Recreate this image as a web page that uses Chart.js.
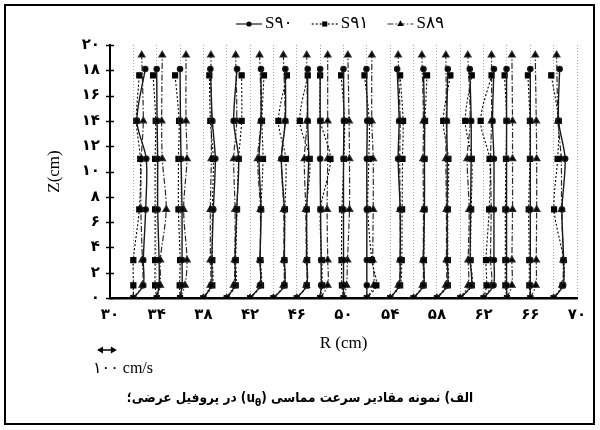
<!DOCTYPE html>
<html>
<head>
<meta charset="utf-8">
<script src="https://cdn.jsdelivr.net/npm/chart.js@4.4.1/dist/chart.umd.min.js"></script>
<style>
  body { margin: 0; background: #fff; }
  #wrap { position: relative; width: 600px; height: 430px; }
  #caption {
    position: absolute; left: 0; top: 389px; width: 600px;
    text-align: center; direction: rtl;
    font-family: "DejaVu Sans Condensed", "DejaVu Sans", sans-serif;
    font-stretch: condensed; font-weight: bold; font-size: 13.5px; color: #000;
  }
  #caption sub { font-size: 10px; }
</style>
</head>
<body>
<div id="wrap">
  <canvas id="chart" width="600" height="430"></canvas>
  <div id="caption">الف) نمونه مقادیر سرعت مماسی (<span dir="ltr">u<sub>θ</sub></span>) در پروفیل عرضی؛</div>
</div>
<script>
// measuring stations along R (cm)
const stations = [32, 34, 36, 38, 40, 42, 44, 46, 48, 50, 52, 54, 56, 58, 60, 62, 64, 66, 68];

// Z levels (cm) of the measured points, per series
const z90 = [0, 1, 3, 7, 11, 14, 18.1];
const z91 = [0, 1, 3, 7, 11, 14, 17.6];
const z89 = [0, 1, 3, 7, 11, 14, 19.2];

// u_theta (cm/s) at each station, one row per station, one value per Z level
const u90 = [
  [0, 50, 50, 62, 65, 18, 60],
  [0, 12, 12, 5, 5, 2, 0],
  [0, 10, 10, 10, 5, 2, 0],
  [0, 40, 42, 50, 60, 45, 35],
  [0, 40, 42, 50, 60, 35, 52],
  [0, 50, 50, 55, 45, 55, 55],
  [0, 55, 55, 55, 40, 60, 60],
  [0, 50, 50, 50, 60, 55, 55],
  [0, 5, 5, 2, 0, 0, 0],
  [0, 0, 0, 0, 0, 2, 0],
  [0, 0, 0, 0, 0, 2, -2],
  [0, 45, 50, 50, 40, 45, 35],
  [0, 50, 50, 55, 55, 55, 50],
  [0, 52, 52, 52, 52, 50, 55],
  [0, 55, 50, 52, 55, 55, 48],
  [0, 50, 52, 52, 52, 45, 52],
  [0, -2, -2, -2, -2, -2, -2],
  [0, 0, 0, 0, 0, 0, 0],
  [0, 48, 50, 42, 58, 25, 30]
];
const u91 = [
  [0, 0, 0, 30, 35, 15, 30],
  [0, -8, -8, -8, -8, -5, -18],
  [0, -2, 0, -8, -8, -5, -25],
  [0, 45, 45, 45, 50, 35, 30],
  [0, 45, 45, 52, 60, 75, 75],
  [0, 55, 52, 55, 65, 60, 70],
  [0, 55, 55, 58, 62, 25, 68],
  [0, 50, 52, 50, 65, 15, 55],
  [0, 10, 8, 2, 52, 2, 0],
  [0, -8, -10, -8, 2, 5, -12],
  [0, 48, 25, 5, 10, 12, -12],
  [0, 50, 58, 60, 62, 65, 50],
  [0, 50, 52, 55, 55, 58, 68],
  [0, 55, 55, 55, 58, 32, 68],
  [0, 58, 52, 55, 58, 25, 58],
  [0, 15, 12, 28, 30, -15, 40],
  [0, -8, -8, -8, -5, -2, -12],
  [0, -5, -5, -8, -2, -2, -12],
  [0, 45, 50, 2, 20, 25, -12]
];
const u89 = [
  [0, 45, 45, 38, 40, 50, 42],
  [0, 18, 18, 48, 28, 25, 28],
  [0, 25, 35, 18, 35, 30, 30],
  [0, 35, 35, 35, 40, 40, 38],
  [0, 35, 40, 42, 35, 50, 45],
  [0, 50, 50, 52, 38, 55, 48],
  [0, 50, 52, 52, 40, 58, 50],
  [0, 48, 48, 45, 38, 52, 50],
  [0, 38, 38, 35, 38, 38, 38],
  [0, 15, 20, 30, 30, 28, 22],
  [0, 35, 30, 32, 32, 25, 25],
  [0, 42, 50, 50, 48, 50, 40],
  [0, 45, 48, 50, 48, 50, 42],
  [0, 45, 48, 48, 45, 48, 45],
  [0, 40, 40, 45, 35, 50, 38],
  [0, 40, 35, 38, 35, 40, 40],
  [0, 25, 25, 28, 28, 28, 25],
  [0, 28, 30, 32, 32, 30, 25],
  [0, 42, 48, 40, 38, 22, 15]
];

const seriesNames = ["S۹۰", "S۹۱", "S۸۹"];
const xMin = 30, xMax = 70, xLabelStep = 4;
const yMin = 0, yMax = 20, yStep = 2;
const velScale = 1.7 / 100;   // 100 cm/s is drawn as 1.7 cm along R
const refVelocity = 100;

function toFa(n) {
  return String(n).replace(/\d/g, (d) => "۰۱۲۳۴۵۶۷۸۹"[d]);
}

// one polyline per station, split by null gaps
function profilePoints(u, z) {
  let pts = [];
  stations.forEach((r, i) => {
    u[i].forEach((v, k) => pts.push({ x: r + v * velScale, y: z[k] }));
    pts.push({ x: r, y: null });
  });
  return pts;
}

const extras = {
  id: "extras",
  afterDraw(chart) {
    const ctx = chart.ctx;
    const xa = chart.scales.x;
    const ya = chart.scales.y;
    ctx.save();

    // y tick marks crossing the axis
    ctx.strokeStyle = "#000";
    ctx.lineWidth = 1.5;
    for (let v = yMin; v <= yMax; v += yStep) {
      const py = Math.round(ya.getPixelForValue(v)) + 0.5;
      ctx.beginPath();
      ctx.moveTo(xa.left - 4, py);
      ctx.lineTo(xa.left + 4, py);
      ctx.stroke();
    }

    // legend
    let lx = 236;
    const ly = 24;
    ctx.font = '17px "Liberation Serif", "DejaVu Sans", serif';
    ctx.textBaseline = "middle";
    chart.data.datasets.forEach((ds) => {
      ctx.strokeStyle = ds.borderColor;
      ctx.lineWidth = 1.2;
      ctx.setLineDash(ds.borderDash || []);
      ctx.beginPath();
      ctx.moveTo(lx, ly);
      ctx.lineTo(lx + 26, ly);
      ctx.stroke();
      ctx.setLineDash([]);
      drawMarker(ctx, ds.pointStyle, lx + 13, ly, ds.pointRadius);
      ctx.fillStyle = "#000";
      ctx.textAlign = "left";
      ctx.fillText(ds.label, lx + 29, ly);
      lx += 29 + ctx.measureText(ds.label).width + 19;
    });

    // velocity scale arrow
    const ax = 97, ay = 350;
    const len = xa.getPixelForValue(xMin + refVelocity * velScale) - xa.getPixelForValue(xMin);
    ctx.strokeStyle = "#000";
    ctx.fillStyle = "#000";
    ctx.lineWidth = 1.5;
    ctx.beginPath();
    ctx.moveTo(ax + 3, ay);
    ctx.lineTo(ax + len - 3, ay);
    ctx.stroke();
    [[ax, 1], [ax + len, -1]].forEach(([px, dir]) => {
      ctx.beginPath();
      ctx.moveTo(px, ay);
      ctx.lineTo(px + 6 * dir, ay - 3.5);
      ctx.lineTo(px + 6 * dir, ay + 3.5);
      ctx.closePath();
      ctx.fill();
    });
    ctx.font = '16px "Liberation Serif", "DejaVu Sans", serif';
    ctx.textAlign = "left";
    ctx.fillText(toFa(refVelocity) + " cm/s", 93, 369);

    // frame
    ctx.lineWidth = 2;
    ctx.strokeRect(5, 5, 589, 419);
    ctx.restore();
  }
};

function drawMarker(ctx, style, x, y, r) {
  ctx.fillStyle = "#000";
  ctx.beginPath();
  if (style === "circle") {
    ctx.arc(x, y, r, 0, Math.PI * 2);
  } else if (style === "rect") {
    const s = r * Math.SQRT1_2 * 2;
    ctx.rect(x - s / 2, y - s / 2, s, s);
  } else {
    ctx.moveTo(x, y - r);
    ctx.lineTo(x + r * 0.87, y + r * 0.5);
    ctx.lineTo(x - r * 0.87, y + r * 0.5);
    ctx.closePath();
  }
  ctx.fill();
}

const tickFont = { family: '"DejaVu Sans", sans-serif', size: 15, weight: "bold" };

new Chart(document.getElementById("chart"), {
  type: "scatter",
  data: {
    datasets: [
      {
        label: seriesNames[0],
        data: profilePoints(u90, z90),
        showLine: true,
        borderColor: "#1a1a1a",
        backgroundColor: "#000",
        borderWidth: 1.4,
        pointStyle: "circle",
        pointRadius: 2.6,
        tension: 0.3,
      },
      {
        label: seriesNames[1],
        data: profilePoints(u91, z91),
        showLine: true,
        borderColor: "#000",
        backgroundColor: "#000",
        borderWidth: 1.1,
        borderDash: [2, 2],
        pointStyle: "rect",
        pointRadius: 3.6,
        tension: 0.3,
      },
      {
        label: seriesNames[2],
        data: profilePoints(u89, z89),
        showLine: true,
        borderColor: "#2a2a2a",
        backgroundColor: "#000",
        borderWidth: 1.2,
        borderDash: [6, 2, 1.5, 2],
        pointStyle: "triangle",
        pointRadius: 3.8,
        tension: 0.3,
      },
    ],
  },
  options: {
    responsive: false,
    animation: false,
    layout: { padding: { left: 0, right: 23, top: 45, bottom: 74 } },
    plugins: { legend: { display: false }, tooltip: { enabled: false } },
    scales: {
      x: {
        type: "linear",
        min: xMin,
        max: xMax,
        afterFit: (scale) => { scale.height = 58; },
        ticks: {
          stepSize: 2,
          autoSkip: false,
          maxRotation: 0,
          padding: 8,
          color: "#000",
          font: tickFont,
          callback: (v) => ((v - xMin) % xLabelStep === 0 ? toFa(v) : ""),
        },
        grid: {
          drawTicks: false,
          color: (c) => (c.tick && c.tick.value === xMin ? "rgba(0,0,0,0)" : "#a8a8a8"),
          lineWidth: 1,
        },
        border: { display: true, color: "#000", width: 2.5, dash: [1, 2] },
        title: {
          display: true,
          text: "R (cm)",
          color: "#000",
          font: { family: '"Liberation Serif", serif', size: 17 },
          padding: { top: 0, bottom: 2 },
        },
      },
      y: {
        min: yMin,
        max: yMax,
        afterFit: (scale) => { scale.width = 110; },
        ticks: {
          stepSize: yStep,
          padding: 10,
          color: "#000",
          font: tickFont,
          callback: (v) => toFa(v),
        },
        grid: { drawOnChartArea: false, drawTicks: false },
        border: { display: true, color: "#000", width: 2 },
        title: {
          display: true,
          text: "Z(cm)",
          color: "#000",
          font: { family: '"Liberation Serif", serif', size: 17 },
          padding: { top: 44, bottom: 0 },
        },
      },
    },
  },
  plugins: [extras],
});
</script>
</body>
</html>
